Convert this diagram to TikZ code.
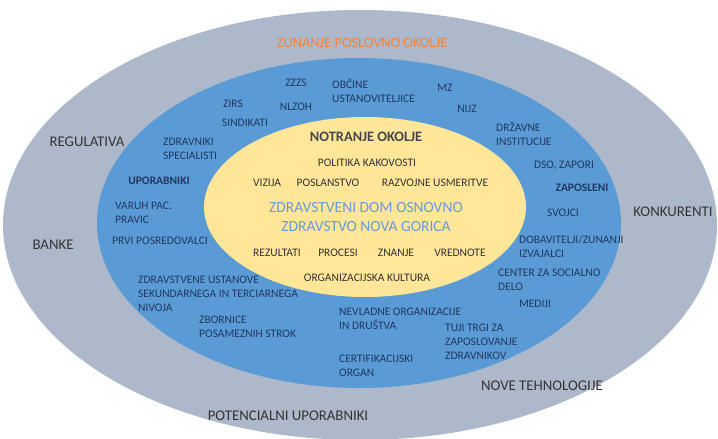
\documentclass[tikz,border=0pt]{standalone}
\usepackage{fontspec}
\setmainfont{Carlito}
\usepackage{tikz}
\usepackage{xcolor}
\definecolor{okoljegray}{HTML}{ADB9CA}
\definecolor{okoljeblue}{HTML}{5B9BD5}
\definecolor{okoljeyellow}{HTML}{FFE699}
\definecolor{navytext}{HTML}{1F3864}
\definecolor{darktext}{HTML}{333333}
\definecolor{titleorange}{HTML}{F0823F}
\definecolor{domblue}{HTML}{6A9AD8}

\begin{document}
\begin{tikzpicture}[x=1pt,y=-1pt,
  zunaj/.style={font=\fontsize{14.8}{17}\selectfont,text=darktext,inner sep=0pt},
  sredina/.style={font=\fontsize{11.5}{14}\selectfont,text=navytext,inner sep=0pt,align=left},
  notri/.style={font=\fontsize{11.5}{14}\selectfont,text=darktext,inner sep=0pt}]
 \useasboundingbox (0,0) rectangle (718,439);
 \path[fill=okoljegray] (360,225) ellipse (357pt and 215pt);
 \path[fill=okoljeblue] (359,223) ellipse (262pt and 165pt);
 \path[fill=okoljeyellow] (365,207) ellipse (161pt and 90pt);
 %%%%%%%%%%%%%%%%%%%%%%%%%%%%%%%%%%%
 \node[zunaj,text=titleorange,font=\fontsize{14.4}{17}\selectfont] (zunanje) at (362,43) {ZUNANJE POSLOVNO OKOLJE};
 \node[zunaj] (regulativa) at (87,142) {REGULATIVA};
 \node[zunaj] (banke) at (53,245) {BANKE};
 \node[zunaj] (konkurenti) at (673,212) {KONKURENTI};
 \node[zunaj] (tehnologije) at (542,386) {NOVE TEHNOLOGIJE};
 \node[zunaj] (potencialni) at (288,416) {POTENCIALNI UPORABNIKI};
 %%%%%%%%%%%%%%%%%%%%%%%%%%%%%%%%%%%
 \node[sredina] (zzzs) at (296,83) {ZZZS};
 \node[sredina] (nlzoh) at (296,107) {NLZOH};
 \node[sredina] (zirs) at (233,104) {ZIRS};
 \node[sredina] (sindikati) at (245,123) {SINDIKATI};
 \node[sredina,anchor=west] (obcine) at (332,90.5) {OBČINE\\USTANOVITELJICE};
 \node[sredina] (mz) at (445,88) {MZ};
 \node[sredina] (nijz) at (467,109) {NIJZ};
 \node[sredina,anchor=west] (drzavne) at (496,133.5) {DRŽAVNE\\INSTITUCIJE};
 \node[sredina] (dso) at (564,166) {DSO, ZAPORI};
 \node[sredina,font=\fontsize{11.5}{14}\selectfont\bfseries] (zaposleni) at (582,188) {ZAPOSLENI};
 \node[sredina] (svojci) at (563,213) {SVOJCI};
 \node[sredina,anchor=west] (dobavitelji) at (519,246.5) {DOBAVITELJI/ZUNANJI\\IZVAJALCI};
 \node[sredina,anchor=west] (center) at (498,280) {CENTER ZA SOCIALNO\\DELO};
 \node[sredina] (mediji) at (535,304) {MEDIJI};
 \node[sredina,anchor=west] (tuji) at (445,341.5) {TUJI TRGI ZA\\ZAPOSLOVANJE\\ZDRAVNIKOV};
 \node[sredina,anchor=west] (nevladne) at (339,318.5) {NEVLADNE ORGANIZACIJE\\IN DRUŠTVA};
 \node[sredina,anchor=west] (certifikacijski) at (339,366) {CERTIFIKACIJSKI\\ORGAN};
 \node[sredina,anchor=west] (zbornice) at (199,327) {ZBORNICE\\POSAMEZNIH STROK};
 \node[sredina,anchor=west] (ustanove) at (138,293.5) {ZDRAVSTVENE USTANOVE\\SEKUNDARNEGA IN TERCIARNEGA\\NIVOJA};
 \node[sredina] (prvi) at (160,241) {PRVI POSREDOVALCI};
 \node[sredina,anchor=west] (varuh) at (115,212.5) {VARUH PAC.\\PRAVIC};
 \node[sredina,font=\fontsize{11.5}{14}\selectfont\bfseries] (uporabniki) at (159,181) {UPORABNIKI};
 \node[sredina,anchor=west] (zdravniki) at (163,148.5) {ZDRAVNIKI\\SPECIALISTI};
 %%%%%%%%%%%%%%%%%%%%%%%%%%%%%%%%%%%
 \node[notri,font=\fontsize{14.4}{17}\selectfont\bfseries,text=darktext!90] (notranje) at (366,137) {NOTRANJE OKOLJE};
 \node[notri] (politika) at (367,163) {POLITIKA KAKOVOSTI};
 \node[notri] (vizija) at (267,183) {VIZIJA};
 \node[notri] (poslanstvo) at (328,183) {POSLANSTVO};
 \node[notri] (razvojne) at (435,183) {RAZVOJNE USMERITVE};
 \node[notri,font=\fontsize{15.5}{19}\selectfont,text=domblue,align=center] (dom) at (366,217.5) {ZDRAVSTVENI DOM OSNOVNO\\ZDRAVSTVO NOVA GORICA};
 \node[notri] (rezultati) at (277,253) {REZULTATI};
 \node[notri] (procesi) at (338,253) {PROCESI};
 \node[notri] (znanje) at (396,253) {ZNANJE};
 \node[notri] (vrednote) at (460,253) {VREDNOTE};
 \node[notri] (kultura) at (367,278) {ORGANIZACIJSKA KULTURA};
\end{tikzpicture}
\end{document}
